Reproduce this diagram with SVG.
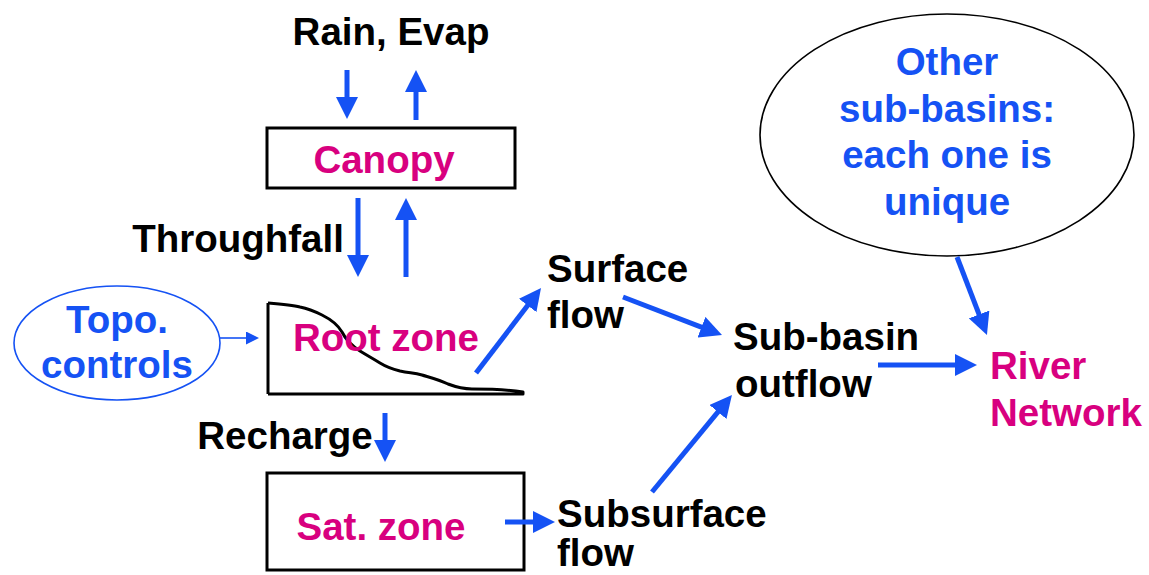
<svg xmlns="http://www.w3.org/2000/svg" width="1149" height="575" viewBox="0 0 1149 575">
  <style>
    text { font-family: "Liberation Sans", Arial, sans-serif; font-weight: bold; font-size: 38.5px; }
    .lbl { fill: #000; }
    .blue { fill: #1552f4; }
    .mag { fill: #d8007f; }
    .box { fill: none; stroke: #000; stroke-width: 3; }
    .flow { fill: none; stroke: #1552f4; stroke-width: 5; marker-end: url(#head); }
    .thin { fill: none; stroke: #1552f4; stroke-width: 1.6; marker-end: url(#headSmall); }
  </style>
  <defs>
    <marker id="head" markerUnits="userSpaceOnUse" markerWidth="22" markerHeight="22" viewBox="0 0 22 22" refX="4" refY="11" orient="auto">
      <path d="M0,0 L22,11 L0,22 z" fill="#1552f4"/>
    </marker>
    <marker id="headSmall" markerUnits="userSpaceOnUse" markerWidth="13" markerHeight="13" viewBox="0 0 13 13" refX="2" refY="6.5" orient="auto">
      <path d="M0,0 L13,6.5 L0,13 z" fill="#1552f4"/>
    </marker>
  </defs>
  <rect width="1149" height="575" fill="#fff"/>

  <g id="rain-evap">
    <text class="lbl" x="391" y="45" text-anchor="middle">Rain, Evap</text>
  </g>

  <g id="canopy">
    <rect class="box" x="267" y="128" width="248" height="60"/>
    <text class="mag" x="384" y="173" text-anchor="middle">Canopy</text>
  </g>

  <g id="throughfall">
    <text class="lbl" x="238" y="252" text-anchor="middle">Throughfall</text>
  </g>

  <g id="topo-controls">
    <ellipse cx="117" cy="343" rx="103" ry="57" fill="none" stroke="#1552f4" stroke-width="1.6"/>
    <text class="blue" x="117" y="333" text-anchor="middle">Topo.</text>
    <text class="blue" x="117" y="378" text-anchor="middle">controls</text>
  </g>

  <g id="root-zone">
    <!-- hand-drawn slope profile over a flat base -->
    <path d="M268,394 L268,303"
          fill="none" stroke="#000" stroke-width="3"/>
    <path d="M268,303 C280,304 292,305 300,307 C310,309 316,312 322,315 C330,319 338,325 342,332 C346,340 352,346 360,351 C368,356 372,358 380,363 C388,368 392,369 400,371 C410,373 414,373 422,375 C432,378 440,380 448,384 C456,387 462,389 472,389 C490,389 510,390 523,392 L523,394 L268,394"
          fill="none" stroke="#000" stroke-width="3" stroke-linejoin="round"/>
    <text class="mag" x="386" y="351" text-anchor="middle">Root zone</text>
  </g>

  <g id="recharge">
    <text class="lbl" x="285" y="449" text-anchor="middle">Recharge</text>
  </g>

  <g id="sat-zone">
    <rect class="box" x="267" y="473" width="257" height="97"/>
    <text class="mag" x="381" y="540" text-anchor="middle">Sat. zone</text>
  </g>

  <g id="surface-flow">
    <text class="lbl" x="547" y="282">Surface</text>
    <text class="lbl" x="547" y="328">flow</text>
  </g>

  <g id="subsurface-flow">
    <text class="lbl" x="557" y="527">Subsurface</text>
    <text class="lbl" x="557" y="566">flow</text>
  </g>

  <g id="sub-basin-outflow">
    <text class="lbl" x="733" y="350">Sub-basin</text>
    <text class="lbl" x="735" y="397">outflow</text>
  </g>

  <g id="other-sub-basins">
    <ellipse cx="947" cy="135" rx="187" ry="121" fill="none" stroke="#000" stroke-width="1.6"/>
    <text class="blue" x="947" y="75" text-anchor="middle">Other</text>
    <text class="blue" x="947" y="122" text-anchor="middle">sub-basins:</text>
    <text class="blue" x="947" y="168" text-anchor="middle">each one is</text>
    <text class="blue" x="947" y="215" text-anchor="middle">unique</text>
  </g>

  <g id="river-network">
    <text class="mag" x="990" y="379">River</text>
    <text class="mag" x="990" y="426">Network</text>
  </g>

  <g id="connectors">
    <path class="flow" d="M347,70 L347,101"/>
    <path class="flow" d="M416,120 L416,88"/>
    <path class="flow" d="M358,198 L358,259"/>
    <path class="flow" d="M406,277 L406,216"/>
    <path class="flow" d="M385,413 L385,444"/>
    <path class="flow" d="M505,522 L537,522"/>
    <path class="flow" d="M476,373 L530.1,302.3"/>
    <path class="flow" d="M623,297 L705.2,328.6"/>
    <path class="flow" d="M652,492 L720.5,408.9"/>
    <path class="flow" d="M878,365 L959,365"/>
    <path class="flow" d="M957,257 L980.5,318.2"/>
    <path class="thin" d="M220,338 L248,338"/>
  </g>
</svg>
